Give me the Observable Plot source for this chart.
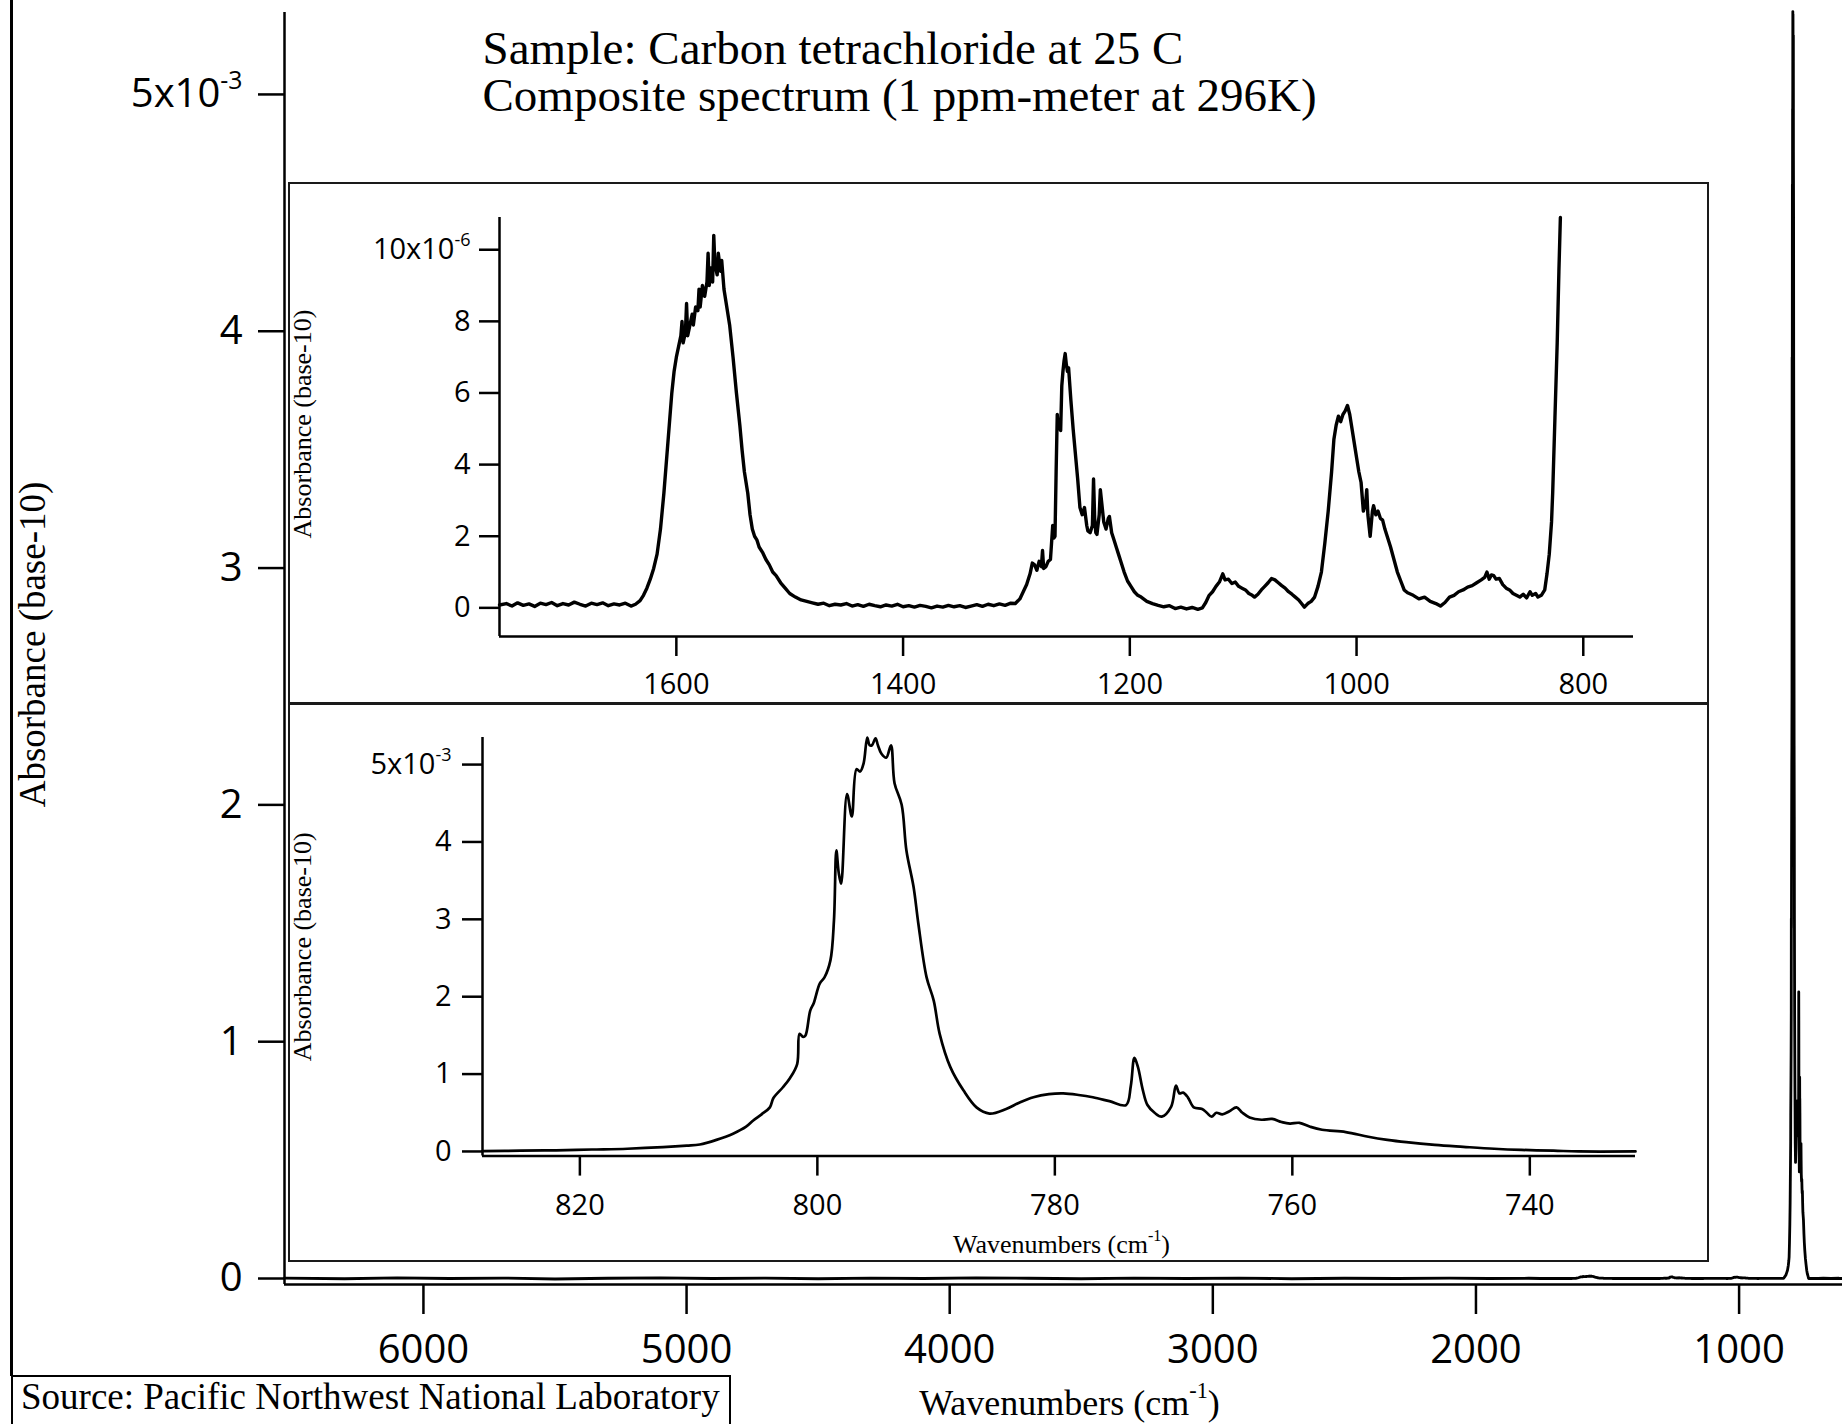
<!DOCTYPE html>
<html><head><meta charset="utf-8">
<script src="https://cdn.jsdelivr.net/npm/d3@7"></script>
<script src="https://cdn.jsdelivr.net/npm/@observablehq/plot@0.6"></script>
<style>
html,body{margin:0;padding:0;background:#fff;}
#wrap{position:relative;width:1842px;height:1424px;overflow:hidden;background:#fff;}
.box{position:absolute;border:2.5px solid #1a1a1a;box-sizing:border-box;pointer-events:none;}
#source{position:absolute;left:11px;top:1375px;width:720px;height:70px;border:2px solid #000;box-sizing:border-box;
  font-family:"Liberation Serif","Times New Roman",serif;font-size:37px;line-height:37px;padding:1px 0 0 8px;color:#000;white-space:nowrap;}
#frameline{position:absolute;left:10px;top:0;width:2.5px;height:1376px;background:#000;}
</style></head><body><div id="wrap"></div>
<script>
// ---------------- data ----------------
// Title
const titleLines = ["Sample: Carbon tetrachloride at 25 C", "Composite spectrum (1 ppm-meter at 296K)"];
const sourceText = "Source: Pacific Northwest National Laboratory";

// Main chart ticks (absorbance in units of 1e-3)
const mainXTicks = [6000, 5000, 4000, 3000, 2000, 1000];
const mainYTicks = [0, 1, 2, 3, 4, 5];
// Inset 1 ticks (absorbance in units of 1e-6)
const inset1XTicks = [1600, 1400, 1200, 1000, 800];
const inset1YTicks = [0, 2, 4, 6, 8, 10];
// Inset 2 ticks (absorbance in units of 1e-3)
const inset2XTicks = [820, 800, 780, 760, 740];
const inset2YTicks = [0, 1, 2, 3, 4, 5];

// Main baseline region (wavenumber, absorbance x1e-3)
const mainBasePoints = [
  [6528,0.002],[6300,-0.001],[6100,0.003],[5900,0.000],[5700,0.002],[5500,-0.002],[5300,0.001],[5100,0.003],
  [4900,0.000],[4700,0.002],[4500,-0.001],[4300,0.002],[4100,0.000],[3900,0.003],[3700,0.001],[3500,-0.001],
  [3300,0.002],[3100,0.000],[2900,0.002],[2700,-0.001],[2500,0.001],[2300,0.000],[2100,0.002],[1950,0.000],[1800,0.001]
];
// Low-wavenumber tail (wavenumber, absorbance x1e-3)
const mainTailPoints = [[730,0.0],[700,0.0],[680,0.001],[650,0.0],[620,0.001],[607,0.0]];

// Inset 1: 1756-820 cm-1 (absorbance x1e-6)
const inset1Points = [
  [1756,0.08],[1750,0.12],[1745,0.05],[1740,0.14],[1735,0.07],[1730,0.11],[1725,0.04],[1720,0.13],[1715,0.09],
  [1710,0.15],[1705,0.06],[1700,0.12],[1695,0.08],[1690,0.16],[1685,0.10],[1680,0.05],[1675,0.13],[1670,0.09],
  [1665,0.14],[1660,0.06],[1655,0.11],[1650,0.08],[1645,0.13],[1640,0.05],[1636,0.10],
  [1632,0.2],[1629,0.35],[1626,0.55],[1623,0.8],[1620,1.1],[1617,1.5],[1614,2.2],[1611,3.2],[1608,4.4],[1606,5.2],
  [1604,6.0],[1602,6.6],[1600,7.0],[1598,7.3],[1596,7.6],[1595,8.0],[1594,7.4],[1592,7.7],[1591,8.5],[1590,7.6],
  [1588,7.9],[1586,8.2],[1585,7.9],[1583,8.4],[1581,8.3],[1580,8.9],[1579,8.4],[1577,9.0],[1575,8.7],[1573,9.1],
  [1572,9.9],[1571,9.0],[1569,9.5],[1568,9.1],[1567,10.4],[1566,9.6],[1564,9.3],[1563,9.9],[1561,9.4],[1560,9.7],
  [1558,8.9],[1556,8.5],[1553,7.9],[1550,7.0],[1547,6.0],[1544,5.1],[1542,4.4],[1540,3.8],[1537,3.2],[1535,2.6],
  [1533,2.2],[1531,2.0],[1529,1.9],[1527,1.7],[1524,1.55],[1521,1.35],[1518,1.2],[1515,1.0],[1512,0.9],[1508,0.7],
  [1504,0.55],[1500,0.4],[1495,0.3],[1490,0.22],[1485,0.18],[1480,0.14],[1475,0.1],[1470,0.13],[1465,0.06],
  [1460,0.1],[1455,0.08],[1450,0.12],[1445,0.05],[1440,0.09],[1435,0.04],[1430,0.1],[1425,0.06],[1420,0.03],
  [1415,0.08],[1410,0.05],[1405,0.1],[1400,0.03],[1395,0.06],[1390,0.02],[1385,0.07],[1380,0.04],[1375,0.0],
  [1370,0.05],[1365,0.02],[1360,0.07],[1355,0.03],[1350,0.06],[1345,0.01],[1340,0.05],[1335,0.09],[1330,0.04],
  [1325,0.1],[1320,0.06],[1315,0.11],[1310,0.07],[1305,0.13],[1301,0.12],
  [1297,0.25],[1294,0.45],[1291,0.65],[1288,0.95],[1286,1.25],[1284,1.2],[1282,1.05],[1280,1.3],[1278,1.15],
  [1277,1.6],[1276,1.1],[1274,1.15],[1272,1.3],[1270,1.35],[1268,2.3],[1267,1.95],[1266,2.0],[1265,3.8],[1264,5.4],
  [1263,5.0],[1262,5.2],[1261,4.95],[1260,6.2],[1259,6.6],[1258,6.9],[1257,7.1],[1256,6.8],[1255,6.6],[1254,6.7],
  [1252,5.8],[1250,5.0],[1248,4.3],[1246,3.6],[1244,2.8],[1242,2.6],[1240,2.8],[1238,2.3],[1237,2.15],[1235,2.1],
  [1233,2.3],[1232,3.6],[1231,2.5],[1230,2.1],[1229,2.05],[1227,2.6],[1226,3.3],[1225,3.0],[1223,2.4],[1221,2.2],
  [1219,2.5],[1218,2.55],[1216,2.1],[1214,1.9],[1212,1.7],[1210,1.5],[1208,1.3],[1205,1.0],[1202,0.75],[1199,0.6],
  [1196,0.45],[1193,0.35],[1190,0.3],[1185,0.18],[1180,0.12],[1175,0.07],[1170,0.03],[1165,0.06],[1160,-0.02],
  [1155,0.02],[1150,-0.03],[1145,0.01],[1140,-0.04],[1136,0.0],[1133,0.15],[1130,0.35],[1127,0.45],[1124,0.6],
  [1121,0.72],[1118,0.95],[1116,0.78],[1113,0.8],[1110,0.68],[1107,0.72],[1104,0.6],[1101,0.55],[1098,0.5],
  [1095,0.4],[1092,0.35],[1090,0.3],[1087,0.38],[1084,0.5],[1081,0.6],[1078,0.7],[1075,0.82],[1072,0.78],
  [1069,0.7],[1066,0.62],[1063,0.55],[1060,0.45],[1057,0.38],[1054,0.3],[1051,0.22],[1048,0.1],[1046,0.02],
  [1043,0.12],[1040,0.18],[1037,0.3],[1034,0.6],[1031,1.0],[1028,1.8],[1025,2.7],[1022,3.8],[1020,4.7],[1018,5.1],
  [1016,5.35],[1014,5.2],[1012,5.4],[1010,5.5],[1008,5.65],[1006,5.4],[1004,5.0],[1002,4.6],[1000,4.2],[998,3.8],
  [996,3.5],[994,2.7],[992,2.9],[991,3.3],[990,2.6],[988,2.0],[986,2.7],[985,2.85],[983,2.6],[981,2.7],[979,2.5],
  [977,2.45],[975,2.2],[972,1.9],[970,1.7],[967,1.35],[964,1.0],[961,0.75],[958,0.5],[955,0.42],[950,0.35],
  [945,0.25],[940,0.3],[935,0.18],[930,0.12],[926,0.05],[922,0.15],[918,0.3],[914,0.35],[910,0.45],[906,0.5],
  [902,0.58],[898,0.62],[894,0.7],[890,0.78],[887,0.85],[885,1.0],[883,0.8],[881,0.92],[879,0.9],[877,0.8],
  [874,0.82],[871,0.65],[868,0.55],[865,0.5],[862,0.4],[859,0.35],[856,0.3],[853,0.38],[850,0.28],[847,0.45],
  [845,0.35],[842,0.4],[840,0.3],[837,0.35],[834,0.5],[832,0.95],[830,1.5],[828,2.4],[827,3.2],[825,5.3],
  [823,7.4],[821.5,9.4],[820.2,10.9]
];

// Inset 2: 828-731 cm-1 (absorbance x1e-3)
const inset2Points = [
  [828.2,0.005],[825,0.01],[822,0.015],[819,0.025],[816,0.035],[813,0.055],[811,0.075],[809.9,0.09],[808.5,0.15],
  [807.1,0.23],[806,0.32],[805.4,0.40],[804.7,0.48],[804.0,0.57],[803.7,0.69],[802.9,0.83],[802.3,0.95],[801.7,1.13],
  [801.5,1.52],[801.2,1.48],[801.0,1.50],[800.6,1.82],[800.3,1.92],[799.8,2.17],[799.4,2.25],[798.9,2.47],
  [798.6,2.99],[798.4,3.89],[798.2,3.6],[798.0,3.46],[797.5,4.62],[797.1,4.33],[796.7,4.94],[796.4,4.91],
  [796.1,5.02],[795.8,5.35],[795.6,5.25],[795.4,5.25],[795.1,5.34],[794.9,5.25],[794.6,5.14],[794.2,5.09],
  [793.8,5.25],[793.5,4.76],[792.9,4.48],[792.5,3.89],[791.9,3.42],[791.5,2.95],[790.8,2.25],[790.2,1.95],
  [789.7,1.52],[788.8,1.09],[787.7,0.79],[786.6,0.57],[785.5,0.49],[784.1,0.55],[783,0.63],[781.8,0.70],
  [780.5,0.74],[779.3,0.75],[778,0.73],[776.8,0.70],[775.4,0.65],[774.0,0.60],[773.6,0.85],[773.3,1.21],
  [773.0,1.09],[772.6,0.80],[772.2,0.60],[771.6,0.50],[771.0,0.45],[770.2,0.58],[769.8,0.85],[769.5,0.75],
  [769.2,0.76],[768.8,0.70],[768.3,0.57],[767.6,0.55],[767.2,0.50],[766.8,0.45],[766.4,0.50],[765.9,0.48],
  [765.3,0.52],[764.7,0.57],[764.2,0.50],[763.6,0.44],[762.6,0.41],[761.7,0.42],[760.9,0.38],[760.2,0.36],
  [759.4,0.37],[758.5,0.32],[757.5,0.28],[755.5,0.25],[753.6,0.19],[752,0.15],[750.4,0.12],[748,0.085],
  [745.6,0.06],[743,0.035],[740.7,0.02],[738,0.01],[735.9,0.0],[731.1,0.0]
];

// ---------------- build ----------------
const toRows = (pts, k = 1) => pts.map(([wn, a]) => ({wn, a: a * k}));
const inset1Data = toRows(inset1Points);
const inset2Data = toRows(inset2Points);
const mainData = [
  ...toRows(mainBasePoints),
  ...toRows(inset1Points.filter(p => p[0] > 829), 0.001),
  ...toRows(inset2Points),
  ...toRows(mainTailPoints)
];

const SANS = "'Open Sans', 'Liberation Sans', sans-serif";
const SERIF = "'Liberation Serif', 'Times New Roman', serif";
const NS = "http://www.w3.org/2000/svg";

function supify(svg) {
  svg.querySelectorAll("text").forEach(t => {
    const s = t.textContent;
    if (!s.includes("{")) return;
    const fs = parseFloat(getComputedStyle(t).fontSize) || 20;
    while (t.firstChild) t.removeChild(t.firstChild);
    const parts = s.split(/\{([^}]*)\}/);
    let shifted = false;
    parts.forEach((p, i) => {
      if (!p) return;
      const ts = document.createElementNS(NS, "tspan");
      ts.textContent = p;
      if (i % 2) {
        ts.setAttribute("font-size", (fs * 0.62).toFixed(1));
        ts.setAttribute("dy", (-fs * 0.45).toFixed(1));
        shifted = true;
      } else if (shifted) {
        ts.setAttribute("dy", (fs * 0.45).toFixed(1));
        shifted = false;
      }
      t.appendChild(ts);
    });
  });
}

const wrap = document.getElementById("wrap");

// Main chart
const mainXDom = [6528, 607], mainYDom = [-0.0253, 5.346];
const mainPlot = Plot.plot({
  width: 1842, height: 1424,
  marginLeft: 284, marginRight: 0, marginTop: 12, marginBottom: 140,
  style: {fontFamily: SANS, background: "transparent", color: "#000"},
  x: {domain: mainXDom, axis: null, label: null},
  y: {domain: mainYDom, axis: null, label: null},
  marks: [
    Plot.axisY(mainYTicks, {anchor: "left", label: null, tickSize: 26, tickPadding: 16, fontSize: 40, strokeWidth: 2.5,
      tickFormat: d => d === 5 ? "5x10{-3}" : String(d)}),
    Plot.axisX(mainXTicks, {anchor: "bottom", label: null, tickSize: 30, tickPadding: 20, fontSize: 40, strokeWidth: 2.5,
      tickFormat: d => String(d)}),
    Plot.ruleX([mainXDom[0]], {strokeWidth: 2.5}),
    Plot.ruleY([mainYDom[0]], {strokeWidth: 2.5}),
    Plot.line(mainData, {x: "wn", y: "a", strokeWidth: 2.8, stroke: "#000"}),
    Plot.text(["Absorbance (base-10)"], {frameAnchor: "left", text: d => d, rotate: -90, dx: -251, dy: -4,
      fontSize: 37, fontFamily: SERIF, textAnchor: "middle"}),
    Plot.text(["Wavenumbers (cm{-1})"], {frameAnchor: "bottom", text: d => d, dx: 6, dy: 130, lineAnchor: "bottom",
      fontSize: 36, fontFamily: SERIF, textAnchor: "middle"}),
    Plot.text([titleLines[0]], {frameAnchor: "top-left", text: d => d, dx: 198, dy: 51, lineAnchor: "bottom",
      textAnchor: "start", fontSize: 47, fontFamily: SERIF}),
    Plot.text([titleLines[1]], {frameAnchor: "top-left", text: d => d, dx: 198, dy: 98, lineAnchor: "bottom",
      textAnchor: "start", fontSize: 47, fontFamily: SERIF})
  ]
});
mainPlot.style.position = "absolute"; mainPlot.style.left = "0px"; mainPlot.style.top = "0px";
wrap.appendChild(mainPlot);

// Inset 1
const in1XDom = [1756, 755.7], in1YDom = [-0.80, 10.90];
const inset1 = Plot.plot({
  width: 1419, height: 520,
  marginLeft: 210, marginRight: 75, marginTop: 34, marginBottom: 67,
  style: {fontFamily: SANS, background: "#fff", color: "#000"},
  x: {domain: in1XDom, axis: null, label: null},
  y: {domain: in1YDom, axis: null, label: null},
  marks: [
    Plot.axisY(inset1YTicks, {anchor: "left", label: null, tickSize: 20, tickPadding: 9, fontSize: 29, strokeWidth: 2.5,
      tickFormat: d => d === 10 ? "10x10{-6}" : String(d)}),
    Plot.axisX(inset1XTicks, {anchor: "bottom", label: null, tickSize: 20, tickPadding: 17, fontSize: 29, strokeWidth: 2.5,
      tickFormat: d => String(d)}),
    Plot.ruleX([in1XDom[0]], {strokeWidth: 2.5}),
    Plot.ruleY([in1YDom[0]], {strokeWidth: 2.5}),
    Plot.line(inset1Data, {x: "wn", y: "a", strokeWidth: 3.4, stroke: "#000"}),
    Plot.text(["Absorbance (base-10)"], {frameAnchor: "left", text: d => d, rotate: -90, dx: -197, dy: -3,
      fontSize: 26, fontFamily: SERIF, textAnchor: "middle"})
  ]
});
inset1.style.position = "absolute"; inset1.style.left = "289px"; inset1.style.top = "183px";
wrap.appendChild(inset1);

// Inset 2
const in2XDom = [828.2, 731.1], in2YDom = [-0.06, 5.35];
const inset2 = Plot.plot({
  width: 1419, height: 557,
  marginLeft: 193, marginRight: 73, marginTop: 34, marginBottom: 104.4,
  style: {fontFamily: SANS, background: "#fff", color: "#000"},
  x: {domain: in2XDom, axis: null, label: null},
  y: {domain: in2YDom, axis: null, label: null},
  marks: [
    Plot.axisY(inset2YTicks, {anchor: "left", label: null, tickSize: 20, tickPadding: 11, fontSize: 29, strokeWidth: 2.5,
      tickFormat: d => d === 5 ? "5x10{-3}" : String(d)}),
    Plot.axisX(inset2XTicks, {anchor: "bottom", label: null, tickSize: 20, tickPadding: 18, fontSize: 29, strokeWidth: 2.5,
      tickFormat: d => String(d)}),
    Plot.ruleX([in2XDom[0]], {strokeWidth: 2.5}),
    Plot.ruleY([in2YDom[0]], {strokeWidth: 2.5}),
    Plot.line(inset2Data, {x: "wn", y: "a", strokeWidth: 2.7, stroke: "#000", curve: "catmull-rom"}),
    Plot.text(["Absorbance (base-10)"], {frameAnchor: "left", text: d => d, rotate: -90, dx: -180, dy: 0,
      fontSize: 26, fontFamily: SERIF, textAnchor: "middle"}),
    Plot.text(["Wavenumbers (cm{-1})"], {frameAnchor: "bottom", text: d => d, dx: 2.5, dy: 96.4, lineAnchor: "bottom",
      fontSize: 26, fontFamily: SERIF, textAnchor: "middle"})
  ]
});
inset2.style.position = "absolute"; inset2.style.left = "289px"; inset2.style.top = "703px";
wrap.appendChild(inset2);

[mainPlot, inset1, inset2].forEach(supify);

// Inset frames
function addBox(l, t, w, h) {
  const d = document.createElement("div");
  d.className = "box";
  Object.assign(d.style, {left: l + "px", top: t + "px", width: w + "px", height: h + "px"});
  wrap.appendChild(d);
}
addBox(288, 182, 1421, 523);
addBox(288, 702, 1421, 560);

// Outer frame line and source box
const fl = document.createElement("div"); fl.id = "frameline"; wrap.appendChild(fl);
const src = document.createElement("div"); src.id = "source"; src.textContent = sourceText; wrap.appendChild(src);
</script>
</body></html>
